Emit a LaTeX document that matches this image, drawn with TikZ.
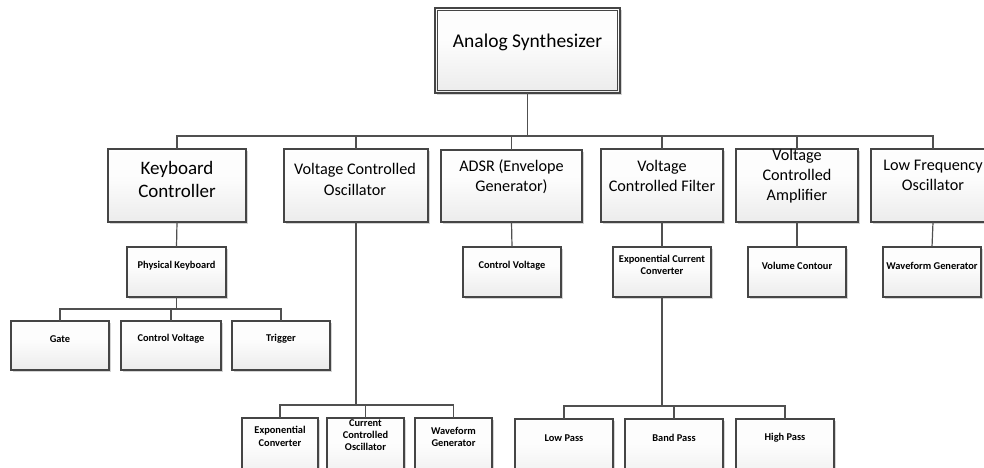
\documentclass[tikz,border=0pt]{standalone}
\usepackage{fontspec}
\setmainfont{Carlito}
\usetikzlibrary{fit,shadows}
\definecolor{edge}{HTML}{454545}
\definecolor{conn}{HTML}{505050}
\pgfdeclareverticalshading{boxshade}{100bp}{color(0bp)=(black!9); color(28bp)=(black!7); color(55bp)=(black!1); color(100bp)=(white)}
\tikzset{
  box/.style={rectangle, draw=edge, line width=1.3pt, inner sep=0pt, outer sep=0pt,
    shading=boxshade, drop shadow={shadow xshift=1.6pt, shadow yshift=-1.6pt, opacity=0.28, fill=black!60}},
  conn/.style={draw=conn, line width=1.2pt},
  rootlbl/.style={font=\fontsize{19.5}{23}\selectfont, align=center, inner sep=0pt, text=black},
  biglbl/.style={font=\fontsize{19}{23}\selectfont, align=center, inner sep=0pt, text=black},
  midlbl/.style={font=\fontsize{16.2}{20.3}\selectfont, align=center, inner sep=0pt, text=black},
  smalllbl/.style={font=\bfseries\fontsize{10.4}{12.3}\selectfont, align=center, inner sep=0pt, text=black},
}
\newcommand\mkbox[6][]{\node[box,#1,fit={(#3,#4) (#5,#6)}] (#2) {};}
\begin{document}
\begin{tikzpicture}[x=1pt,y=-1pt]
\useasboundingbox (0,0) rectangle (984,467);
\fill[white] (0,0) rectangle (984,467);
\clip (0,0) rectangle (984,467);

% root
\mkbox{root}{435}{8}{620}{93}
\draw[draw=edge, line width=1.1pt] ([shift={(2.6pt,-2.6pt)}]root.north west) rectangle ([shift={(-2.6pt,2.6pt)}]root.south east);
\node[rootlbl] (root-t) at (527.5,42) {Analog Synthesizer};

% level 1
\mkbox{kc}{108}{149}{246}{222}
\node[biglbl] (kc-t) at (177,179.5) {Keyboard\\Controller};
\mkbox{vco}{284}{149}{428}{222}
\node[midlbl] (vco-t) at (355,179.5) {Voltage Controlled\\Oscillator};
\mkbox{adsr}{441}{150}{582}{222}
\node[midlbl] (adsr-t) at (511.5,177) {ADSR (Envelope\\Generator)};
\mkbox{vcf}{601}{149}{723}{222}
\node[midlbl] (vcf-t) at (662,176) {Voltage\\Controlled Filter};
\mkbox{vca}{736}{149}{858}{222}
\node[midlbl] (vca-t) at (797,176) {Voltage\\Controlled\\Amplifier};
\mkbox{lfo}{871}{149}{995}{222}
\node[midlbl] (lfo-t) at (933,175.5) {Low Frequency\\Oscillator};

% level 2
\mkbox{pk}{127}{247}{226}{297}
\node[smalllbl] (pk-t) at (176.5,266) {Physical Keyboard};
\mkbox{adsrcv}{463}{247}{561}{297}
\node[smalllbl] (adsrcv-t) at (512,265.5) {Control Voltage};
\mkbox{ecc}{613}{247}{711}{297}
\node[smalllbl] (ecc-t) at (662,265) {Exponential Current\\Converter};
\mkbox{vc}{748}{247}{846}{297}
\node[smalllbl] (vc-t) at (797,265.5) {Volume Contour};
\mkbox{wg2}{883}{247}{981}{297}
\node[smalllbl] (wg2-t) at (932,265.5) {Waveform Generator};

% level 3 (keyboard)
\mkbox{gate}{11}{321}{109}{370}
\node[smalllbl] (gate-t) at (60,339) {Gate};
\mkbox{cv1}{121}{321}{221}{370}
\node[smalllbl] (cv1-t) at (171,339) {Control Voltage};
\mkbox{trig}{232}{321}{330}{370}
\node[smalllbl] (trig-t) at (281,339) {Trigger};

% level 3 (VCO)
\mkbox{ec}{242}{418}{318}{485}
\node[smalllbl] (ec-t) at (280,436.5) {Exponential\\Converter};
\mkbox{cco}{327}{418}{404}{485}
\node[smalllbl] (cco-t) at (365.5,435) {Current\\Controlled\\Oscillator};
\mkbox{wg1}{415}{418}{492}{485}
\node[smalllbl] (wg1-t) at (453.5,437) {Waveform\\Generator};

% level 3 (VCF)
\mkbox{lp}{515}{419}{613}{485}
\node[smalllbl] (lp-t) at (564,438) {Low Pass};
\mkbox{bp}{625}{419}{723}{485}
\node[smalllbl] (bp-t) at (674,438) {Band Pass};
\mkbox{hp}{736}{419}{834}{485}
\node[smalllbl] (hp-t) at (785,438) {High Pass};

% connectors
\coordinate (b1) at (527.5,136);
\draw[conn] (root.south) -- (b1);
\draw[conn] (kc.north) |- (lfo.north |- b1) -- (lfo.north);
\foreach \n in {vco,adsr,vcf,vca} \draw[conn] (\n.north) -- (\n.north |- b1);

\draw[conn] (kc.south) -- (pk.north);
\draw[conn] (adsr.south) -- (adsrcv.north);
\draw[conn] (vcf.south) -- (ecc.north);
\draw[conn] (vca.south) -- (vc.north);
\draw[conn] (lfo.south) -- (wg2.north);

\coordinate (b2) at (176.5,309);
\draw[conn] (pk.south) -- (b2);
\draw[conn] (gate.north) |- (trig.north |- b2) -- (trig.north);
\draw[conn] (cv1.north) -- (cv1.north |- b2);

\coordinate (b3) at (356,405);
\draw[conn] (vco.south) -- (b3);
\draw[conn] (ec.north) |- (wg1.north |- b3) -- (wg1.north);
\draw[conn] (cco.north) -- (cco.north |- b3);

\coordinate (b4) at (662,406);
\draw[conn] (ecc.south) -- (b4);
\draw[conn] (lp.north) |- (hp.north |- b4) -- (hp.north);
\draw[conn] (bp.north) -- (bp.north |- b4);
\end{tikzpicture}
\end{document}
